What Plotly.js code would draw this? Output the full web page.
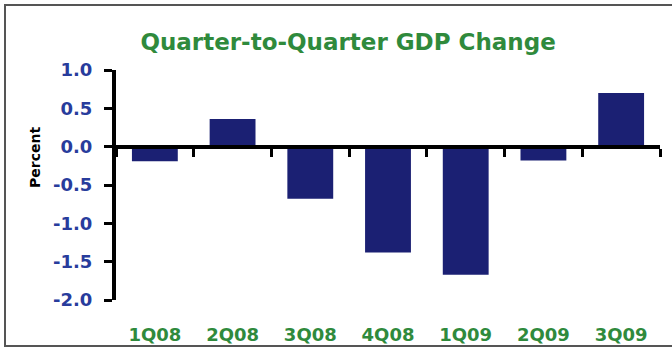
<!DOCTYPE html>
<html>
<head>
<meta charset="utf-8">
<script src="https://cdn.plot.ly/plotly-3.0.1.min.js"></script>
<style>
html,body{margin:0;padding:0;background:#fff;}
#chart{width:672px;height:349px;}
</style>
</head>
<body>
<div id="chart"></div>
<script>
var quarters = ["1Q08", "2Q08", "3Q08", "4Q08", "1Q09", "2Q09", "3Q09"];
var gdpChange = [-0.19, 0.36, -0.68, -1.38, -1.67, -0.18, 0.70];
var yTickVals = [1.0, 0.5, 0.0, -0.5, -1.0, -1.5, -2.0];
var yTickText = ["1.0", "0.5", "0.0", "-0.5", "-1.0", "-1.5", "-2.0"];

var green = "#2f8a3c";
var blue = "#283c9c";
var navy = "#1b2073";
var fam = "DejaVu Sans, Liberation Sans, Arial, sans-serif";

// visible bars on the axis that crosses at zero
var bars = {
  type: "bar",
  x: quarters,
  y: gdpChange,
  xaxis: "x",
  yaxis: "y",
  width: 0.59,
  marker: {color: navy, line: {width: 0}},
  hoverinfo: "x+y"
};
// same data, invisible, carrying the bottom category labels
var labelCarrier = {
  type: "bar",
  x: quarters,
  y: gdpChange,
  xaxis: "x2",
  yaxis: "y",
  width: 0.59,
  opacity: 0,
  marker: {color: navy},
  hoverinfo: "skip"
};

var layout = {
  width: 672,
  height: 349,
  margin: {l: 116, r: 12, t: 70, b: 49},
  paper_bgcolor: "#ffffff",
  plot_bgcolor: "#ffffff",
  showlegend: false,
  barmode: "overlay",
  title: {
    text: "Quarter-to-Quarter GDP Change",
    x: 0.518, xref: "container", xanchor: "center",
    y: 0.88, yref: "container", yanchor: "middle",
    font: {family: fam, size: 23, color: green, weight: "bold"}
  },
  xaxis: {
    type: "category",
    anchor: "free",
    position: 2 / 3,
    range: [-0.5, 6.5],
    showline: true,
    linewidth: 4,
    linecolor: "#000",
    showgrid: false,
    zeroline: false,
    ticks: "outside",
    tickson: "boundaries",
    ticklen: 8,
    tickwidth: 3,
    tickcolor: "#000",
    showticklabels: false,
    fixedrange: true
  },
  xaxis2: {
    type: "category",
    anchor: "y",
    overlaying: "x",
    side: "bottom",
    range: [-0.5, 6.5],
    showline: false,
    showgrid: false,
    zeroline: false,
    ticks: "",
    ticklabelstandoff: 22,
    tickfont: {family: fam, size: 18, color: green, weight: "bold"},
    fixedrange: true
  },
  yaxis: {
    range: [-2, 1],
    tickmode: "array",
    tickvals: yTickVals,
    ticktext: yTickText,
    showline: true,
    linewidth: 4,
    linecolor: "#000",
    ticks: "outside",
    ticklen: 8,
    tickwidth: 3,
    tickcolor: "#000",
    ticklabelstandoff: 8,
    showgrid: false,
    zeroline: false,
    tickfont: {family: fam, size: 18, color: blue, weight: "bold"},
    fixedrange: true
  },
  annotations: [{
    text: "Percent",
    xref: "paper", yref: "paper",
    x: (35 - 116) / 544, y: (300 - 158) / 230,
    xanchor: "center", yanchor: "middle",
    textangle: -90,
    showarrow: false,
    font: {family: fam, size: 14, color: "#000", weight: "bold"}
  }],
  shapes: [{
    type: "rect",
    xref: "paper", yref: "paper",
    x0: (5 - 116) / 544, x1: 1.05,
    y0: (300 - 346) / 230, y1: (300 - 5) / 230,
    line: {color: "#555", width: 2},
    fillcolor: "rgba(0,0,0,0)",
    layer: "below"
  }]
};

Plotly.newPlot("chart", [bars, labelCarrier], layout, {displayModeBar: false, staticPlot: true});
</script>
</body>
</html>
